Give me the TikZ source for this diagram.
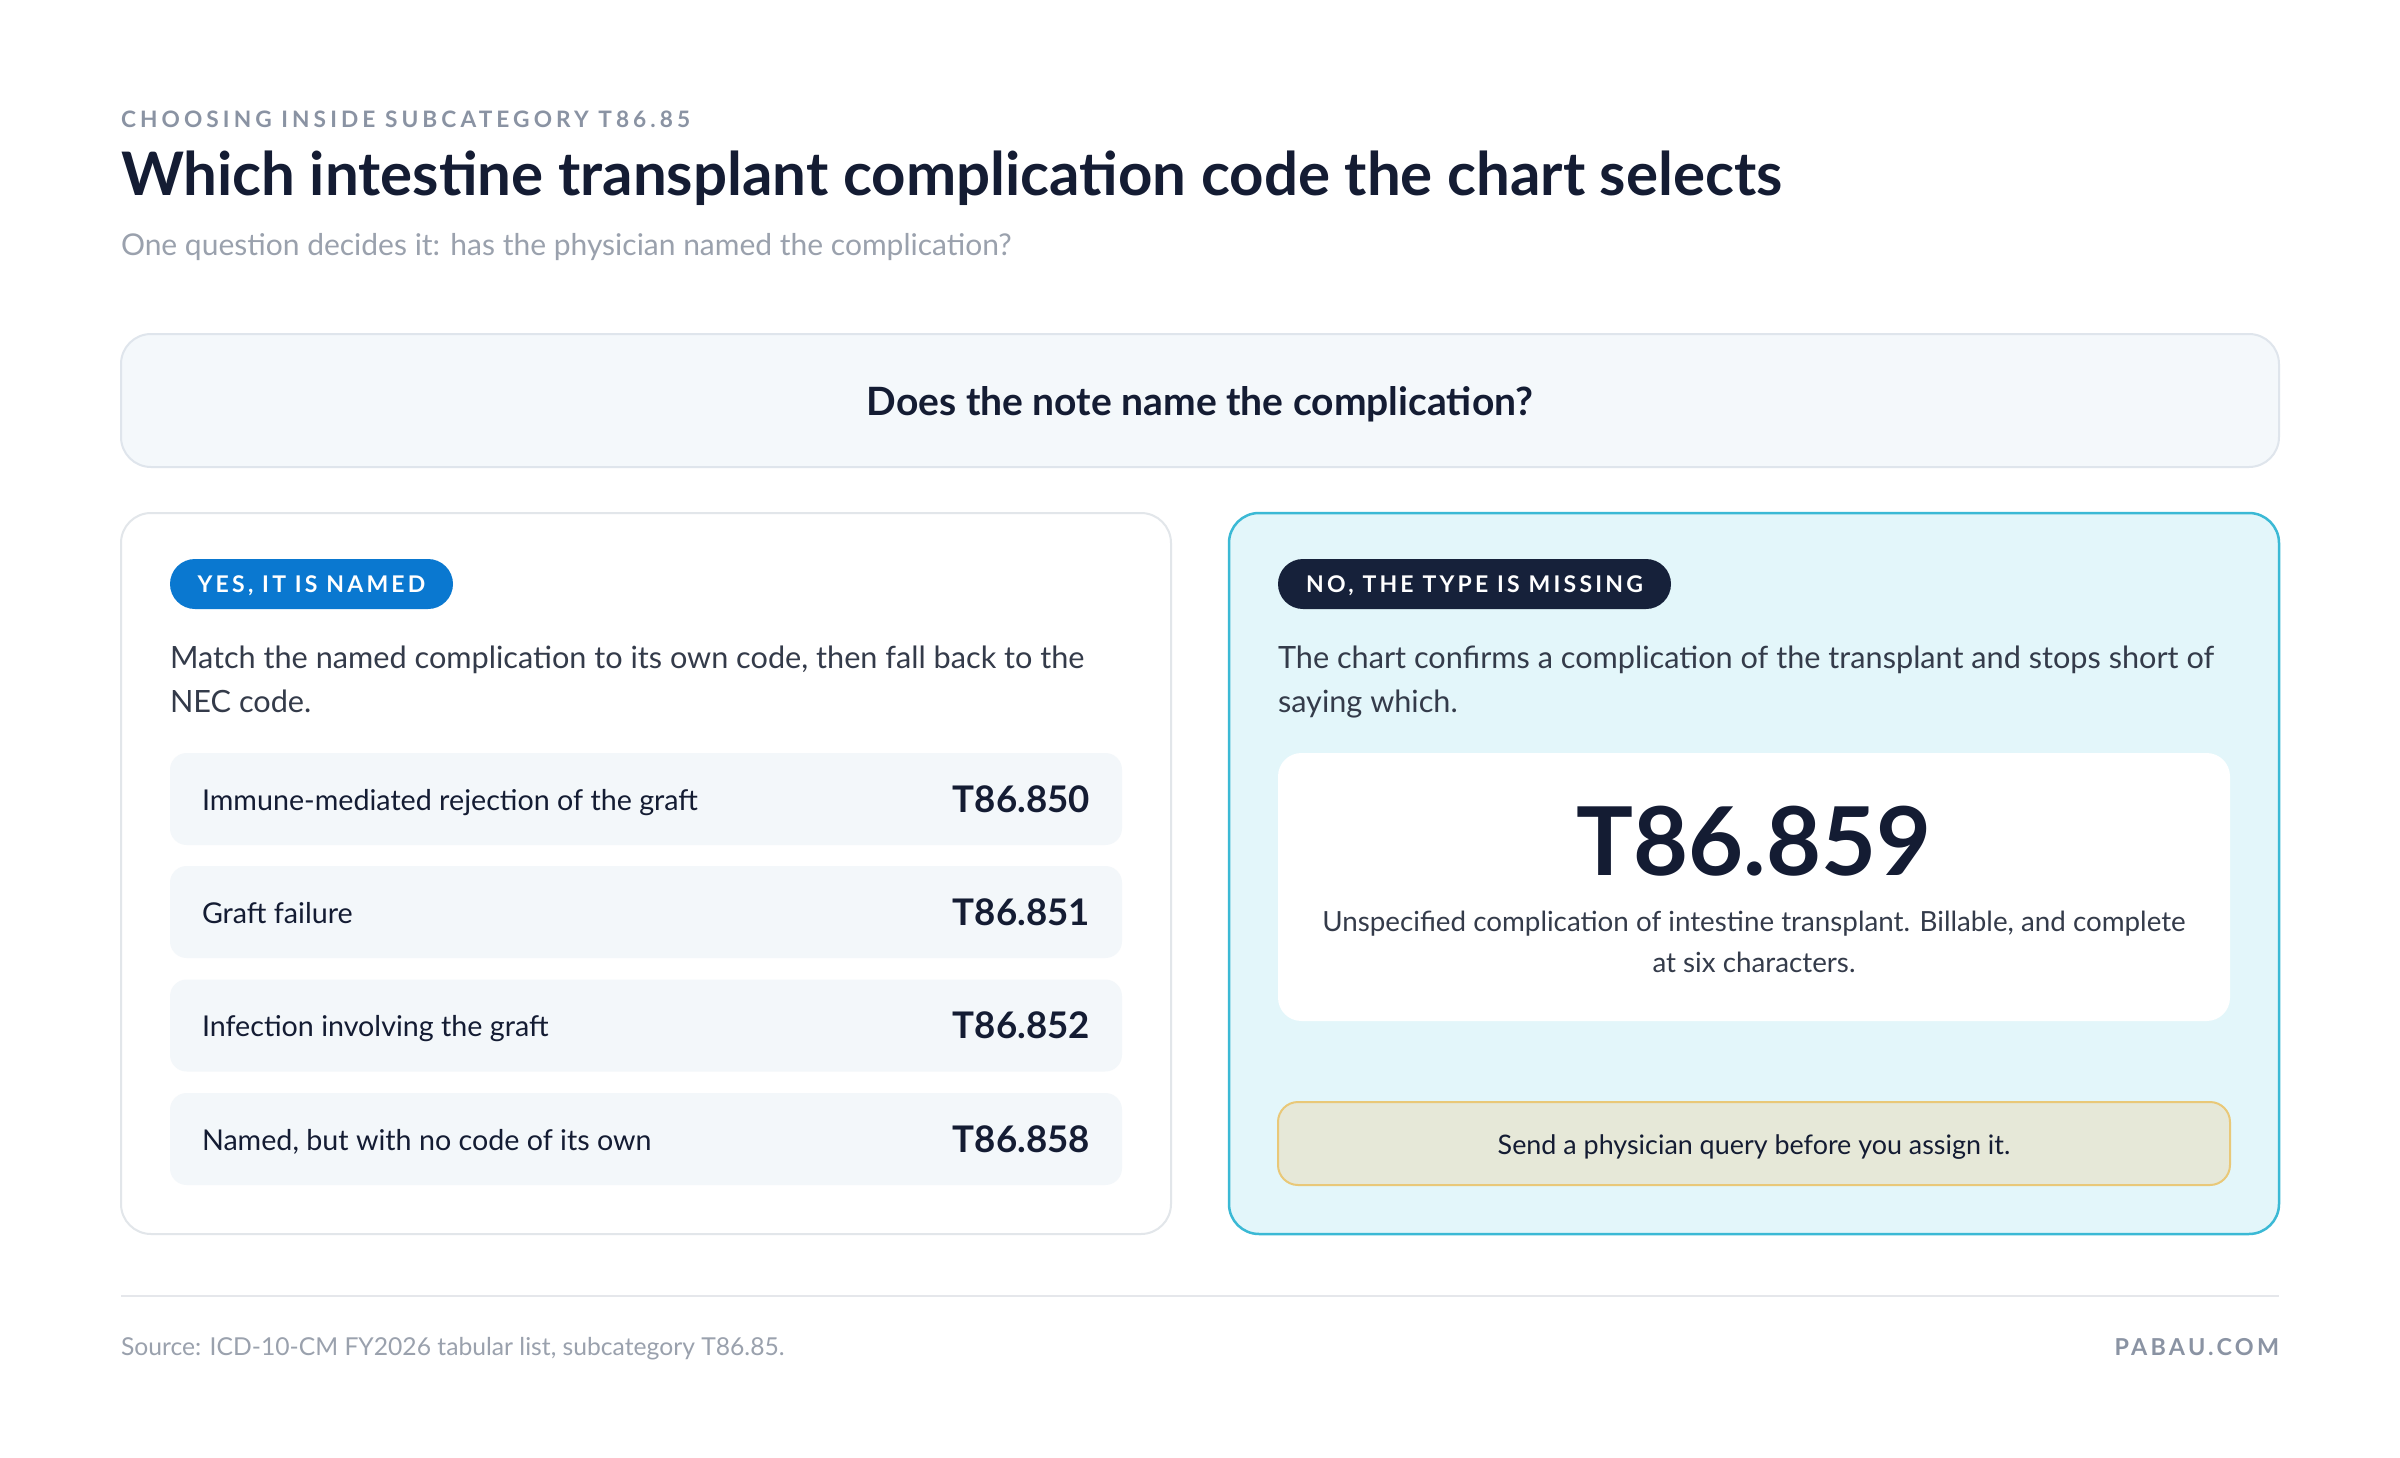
\documentclass[tikz,border=0pt]{standalone}
\usepackage{fontspec}
\setmainfont{Lato}
\newfontfamily\capsfont[LetterSpace=14]{Lato}
\newfontfamily\eyefont[LetterSpace=18]{Lato}
\definecolor{navy}{HTML}{141C33}
\definecolor{eyegray}{HTML}{8A93A3}
\definecolor{subgray}{HTML}{9AA1AD}
\definecolor{bodytext}{HTML}{343B4A}
\definecolor{qfill}{HTML}{F4F8FB}
\definecolor{qline}{HTML}{DFE5EC}
\definecolor{cardline}{HTML}{E2E6EA}
\definecolor{rowfill}{HTML}{F3F7FA}
\definecolor{pillblue}{HTML}{0A78D0}
\definecolor{pillnavy}{HTML}{16213A}
\definecolor{cyanfill}{HTML}{E3F6FA}
\definecolor{cyanline}{HTML}{3BB9D5}
\definecolor{queryfill}{HTML}{E6E8D8}
\definecolor{queryline}{HTML}{E9C878}
\definecolor{divider}{HTML}{E5E7EB}
\begin{document}
\begin{tikzpicture}[x=0.3pt,y=-0.3pt,
  every node/.style={inner sep=0pt, outer sep=0pt},
  box/.style={rectangle, line width=0.6pt, rounded corners=9pt},
  rowbox/.style={rectangle, fill=rowfill, rounded corners=5pt, minimum width=285.6pt, minimum height=27.6pt},
  pill/.style={rectangle, rounded corners=7.5pt, minimum height=15pt},
  pilltext/.style={text=white, anchor=base, font=\capsfont\bfseries\fontsize{6.9}{8}\selectfont},
  body/.style={text=bodytext, align=left, font=\fontsize{9.2}{13.2}\selectfont},
  rowlabel/.style={text=navy, font=\fontsize{8.6}{10}\selectfont},
  code/.style={text=navy, font=\bfseries\fontsize{11}{12}\selectfont}
]
\path[fill=white, use as bounding box] (0,0) rectangle (2400,1458);

% header
\node[anchor=base west, text=eyegray, font=\eyefont\bfseries\fontsize{6.8}{8}\selectfont] (eyebrow) at (121,127) {CHOOSING INSIDE SUBCATEGORY T86.85};
\node[anchor=base west, text=navy, font=\bfseries\fontsize{18}{22}\selectfont] (title) at (121,195) {Which intestine transplant complication code the chart selects};
\node[anchor=base west, text=subgray, font=\fontsize{9}{10}\selectfont] (subtitle) at (121,255) {One question decides it: has the physician named the complication?};

% question box
\node[box, draw=qline, fill=qfill, minimum width=647.4pt, minimum height=39.9pt] (qbox) at (1200,400.5) {};
\node[anchor=base, text=navy, font=\bfseries\fontsize{11.7}{13}\selectfont] (qtext) at (1200,415) {Does the note name the complication?};

% left card
\node[box, draw=cardline, fill=white, minimum width=315pt, minimum height=216.3pt] (left) at (646,873.5) {};
\node[pill, fill=pillblue, minimum width=84.9pt] (yespill) at (311.5,584) {};
\node[pilltext] (yestext) at (311.5,592) {YES, IT IS NAMED};
\node[body, anchor=base west] (lbody) at (170,712) {Match the named complication to its own code, then fall back to the\\NEC code.};

\node[rowbox] (r1) at (646,799) {};
\node[rowbox] (r2) at (646,912) {};
\node[rowbox] (r3) at (646,1025.5) {};
\node[rowbox] (r4) at (646,1139) {};
\node[rowlabel, anchor=base west] (l1) at (202,810) {Immune-mediated rejection of the graft};
\node[rowlabel, anchor=base west] (l2) at (202,923) {Graft failure};
\node[rowlabel, anchor=base west] (l3) at (202,1036) {Infection involving the graft};
\node[rowlabel, anchor=base west] (l4) at (202,1150) {Named, but with no code of its own};
\node[code, anchor=base east] (c1) at (1090,812) {T86.850};
\node[code, anchor=base east] (c2) at (1090,925) {T86.851};
\node[code, anchor=base east] (c3) at (1090,1038) {T86.852};
\node[code, anchor=base east] (c4) at (1090,1152) {T86.858};

% right card
\node[box, draw=cyanline, fill=cyanfill, line width=0.75pt, minimum width=315pt, minimum height=216.3pt] (right) at (1754,873.5) {};
\node[pill, fill=pillnavy, minimum width=117.9pt] (nopill) at (1474.5,584) {};
\node[pilltext] (notext) at (1474.5,592) {NO, THE TYPE IS MISSING};
\node[body, anchor=base west] (rbody) at (1278,712) {The chart confirms a complication of the transplant and stops short of\\saying which.};

\node[rectangle, fill=white, rounded corners=7pt, minimum width=285.6pt, minimum height=80.4pt] (white) at (1754,887) {};
\node[anchor=base, text=navy, font=\bfseries\fontsize{28.5}{30}\selectfont] (bigcode) at (1754,875) {T86.859};
\node[anchor=base, text=bodytext, align=center, font=\fontsize{8.33}{12.3}\selectfont] (desc) at (1754,972) {Unspecified complication of intestine transplant. Billable, and complete\\at six characters.};

\node[rectangle, draw=queryline, fill=queryfill, line width=0.6pt, rounded corners=6pt, minimum width=285.6pt, minimum height=24.9pt] (query) at (1754,1143.5) {};
\node[anchor=base, text=navy, font=\fontsize{8.07}{10}\selectfont] (qrytext) at (1754,1154) {Send a physician query before you assign it.};

% footer
\coordinate (dl) at (121,1296);
\coordinate (dr) at (2279,1296);
\draw[divider, line width=0.6pt] (dl) -- (dr);
\node[anchor=base west, text=subgray, font=\fontsize{7.4}{9}\selectfont] (source) at (121,1355) {Source: ICD-10-CM FY2026 tabular list, subcategory T86.85.};
\node[anchor=base east, text=eyegray, font=\capsfont\bfseries\fontsize{7}{9}\selectfont] (brand) at (2279,1355) {PABAU.COM};
\end{tikzpicture}
\end{document}
